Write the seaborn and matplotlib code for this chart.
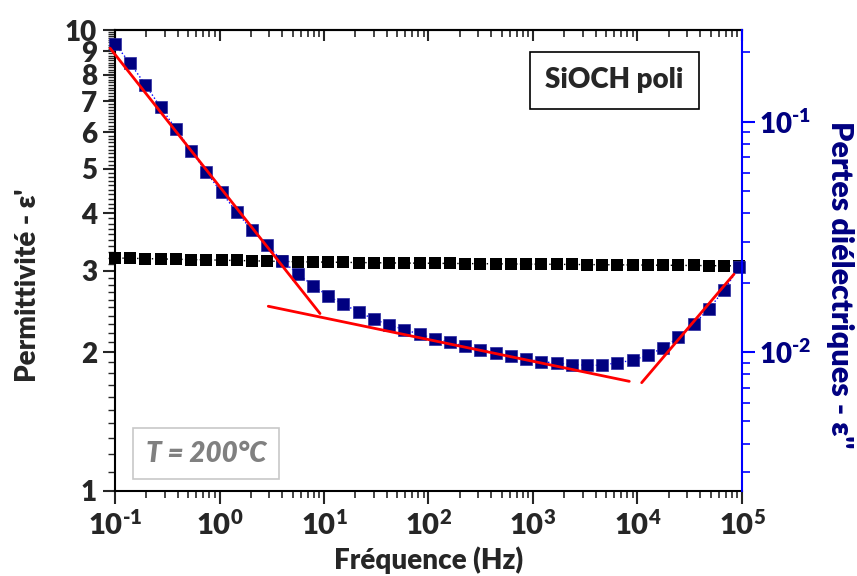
import numpy as np
import matplotlib
matplotlib.use("Agg")
import matplotlib.pyplot as plt
import matplotlib.ticker as mticker
import seaborn as sns

# fréquences de mesure (Hz)
freq = [0.1, 0.1398, 0.1956, 0.2736, 0.3826, 0.5353, 0.7484, 1.047, 1.464, 2.048,
        2.864, 4.006, 5.603, 7.836, 10.96, 15.33, 21.44, 29.99, 41.94, 58.65,
        82.04, 114.7, 160.5, 224.4, 313.9, 439.0, 614.0, 858.8, 1201, 1680,
        2350, 3286, 4596, 6428, 8991, 12575, 17588, 24598, 34404, 48118,
        67298, 94124]

# permittivité eps'
eps1 = [3.20, 3.195, 3.19, 3.185, 3.18, 3.175, 3.17, 3.165, 3.16, 3.155,
        3.15, 3.145, 3.14, 3.137, 3.134, 3.131, 3.128, 3.125, 3.122, 3.12,
        3.118, 3.116, 3.114, 3.112, 3.11, 3.108, 3.106, 3.104, 3.102, 3.10,
        3.098, 3.096, 3.094, 3.092, 3.09, 3.088, 3.086, 3.084, 3.082, 3.08,
        3.078, 3.076]

# pertes eps''
eps2 = [0.2171, 0.1794, 0.1444, 0.1155, 0.0930, 0.0748, 0.0603, 0.0493, 0.0404, 0.0338,
        0.0291, 0.0248, 0.0219, 0.01944, 0.01752, 0.01612, 0.01493, 0.01388, 0.01311, 0.01252,
        0.01194, 0.01144, 0.01102, 0.01059, 0.01024, 0.00990, 0.00958, 0.00932, 0.00908, 0.00896,
        0.00882, 0.00876, 0.00876, 0.00899, 0.00920, 0.00970, 0.01041, 0.01158, 0.01319, 0.01538,
        0.01855, 0.02342]

# droites d'ajustement (loi de puissance) sur eps''
fit1_f = [0.0896, 9.16]
fit1_v = [0.2086, 0.01469]
fit2_f = [2.93, 8346]
fit2_v = [0.0158, 0.00746]
fit3_f = [10965, 83800]
fit3_v = [0.00736, 0.02177]

sns.set_style("ticks")
plt.rcParams['font.family'] = ['Lato', 'DejaVu Sans']
plt.rcParams['font.weight'] = 'heavy'
plt.rcParams['axes.unicode_minus'] = False
plt.rcParams['mathtext.fontset'] = 'custom'
plt.rcParams['mathtext.rm'] = 'Lato:heavy'
plt.rcParams['mathtext.it'] = 'Lato:heavy:italic'
plt.rcParams['mathtext.bf'] = 'Lato:heavy'


def puissance(v, pos):
    return r'$10^{\text{%d}}$' % int(round(np.log10(v)))


fig = plt.figure(figsize=(8.57, 5.76), dpi=100)
ax = fig.add_axes([0.1342, 0.1481, 0.7316, 0.7998])
ax2 = ax.twinx()

sns.lineplot(x=freq, y=eps1, ax=ax, color='black', marker='s', markersize=8,
             markeredgewidth=0, linestyle=':', linewidth=1, clip_on=False)
sns.lineplot(x=freq, y=eps2, ax=ax2, color='#0000ff', marker='s', markersize=8,
             markerfacecolor='#000080', markeredgecolor='#2a2aa0', markeredgewidth=0.5,
             linestyle=':', linewidth=1, clip_on=False)
for f, v in [(fit1_f, fit1_v), (fit2_f, fit2_v), (fit3_f, fit3_v)]:
    sns.lineplot(x=f, y=v, ax=ax2, color='red', linewidth=2, clip_on=False)

ax.set_xscale('log')
ax.set_yscale('log')
ax.set_xlim(0.1, 1e5)
ax.set_ylim(1, 10)
ax2.set_yscale('log')
ax2.set_ylim(0.0025, 0.25)

ax.xaxis.set_major_locator(mticker.LogLocator(base=10, numticks=10))
ax.xaxis.set_minor_locator(mticker.LogLocator(base=10, subs=np.arange(2, 10), numticks=20))
ax.xaxis.set_major_formatter(mticker.FuncFormatter(puissance))
ax.xaxis.set_minor_formatter(mticker.NullFormatter())

ax.yaxis.set_major_locator(mticker.FixedLocator([1, 2, 3, 4, 5, 6, 7, 8, 9, 10]))
ax.yaxis.set_major_formatter(mticker.FixedFormatter(['1', '2', '3', '4', '5', '6', '7', '8', '9', '10']))
ax.yaxis.set_minor_locator(mticker.FixedLocator([round(1 + 0.1 * k, 1) for k in range(91) if k % 10]))
ax.yaxis.set_minor_formatter(mticker.NullFormatter())

ax2.yaxis.set_major_locator(mticker.LogLocator(base=10, numticks=10))
ax2.yaxis.set_minor_locator(mticker.LogLocator(base=10, subs=np.arange(2, 10), numticks=20))
ax2.yaxis.set_major_formatter(mticker.FuncFormatter(puissance))
ax2.yaxis.set_minor_formatter(mticker.NullFormatter())

for s in ['left', 'bottom', 'top']:
    ax.spines[s].set_linewidth(1.5)
    ax.spines[s].set_color('black')
ax.spines['right'].set_visible(False)
for s in ['left', 'bottom', 'top']:
    ax2.spines[s].set_visible(False)
ax2.spines['right'].set_color('#0000ff')
ax2.spines['right'].set_linewidth(1.5)

# graduations du haut, vers l'intérieur
top = ax.secondary_xaxis('top')
top.xaxis.set_major_locator(mticker.LogLocator(base=10, numticks=10))
top.xaxis.set_minor_locator(mticker.LogLocator(base=10, subs=np.arange(2, 10), numticks=20))
top.xaxis.set_major_formatter(mticker.NullFormatter())
top.xaxis.set_minor_formatter(mticker.NullFormatter())
top.tick_params(which='both', direction='in')
top.tick_params(which='major', length=8, width=1.5)
top.tick_params(which='minor', length=5, width=1.2)
top.spines['top'].set_linewidth(1.5)

ax.tick_params(axis='x', which='both', top=False, bottom=True, direction='out', labelsize=21, pad=5)
ax.tick_params(axis='x', which='major', length=9, width=1.5)
ax.tick_params(axis='x', which='minor', length=5, width=1.2)
ax.tick_params(axis='y', which='both', left=True, right=False, direction='out', labelsize=20, pad=4)
ax.tick_params(axis='y', which='major', length=9, width=1.5)
ax.tick_params(axis='y', which='minor', length=5, width=1)

ax2.tick_params(axis='y', which='both', colors='#0000ff', direction='out', labelsize=20,
                labelcolor='#000080', pad=3)
ax2.tick_params(axis='y', which='major', length=9, width=1.5)
ax2.tick_params(axis='y', which='minor', length=6, width=1.2)

ax.set_xlabel('Fréquence (Hz)', fontsize=20, fontweight='heavy', labelpad=5)
ax.set_ylabel("Permittivité - ε'", fontsize=20, fontweight='heavy', va='center')
ax.yaxis.set_label_coords(-0.139, 0.4465)
ax2.set_ylabel("Pertes diélectriques - ε''", fontsize=22, fontweight='heavy', color='#000080',
               rotation=270, va='center')
ax2.yaxis.set_label_coords(1.156, 0.4465)

ax.text(0.796, 0.891, 'SiOCH poli', transform=ax.transAxes, fontsize=20, fontweight='heavy',
        ha='center', va='center',
        bbox=dict(boxstyle='square,pad=0.55', facecolor='white', edgecolor='black', linewidth=1.2))
ax.text(0.145, 0.080, 'T = 200°C', transform=ax.transAxes, fontsize=20, fontweight='heavy',
        fontstyle='italic', color='#808080', ha='center', va='center',
        bbox=dict(boxstyle='square,pad=0.45', facecolor='white', edgecolor='#c8c8c8', linewidth=1.2))

ax2.set_zorder(ax.get_zorder() + 1)
ax2.patch.set_visible(False)

fig.savefig('out.png', dpi=100)
